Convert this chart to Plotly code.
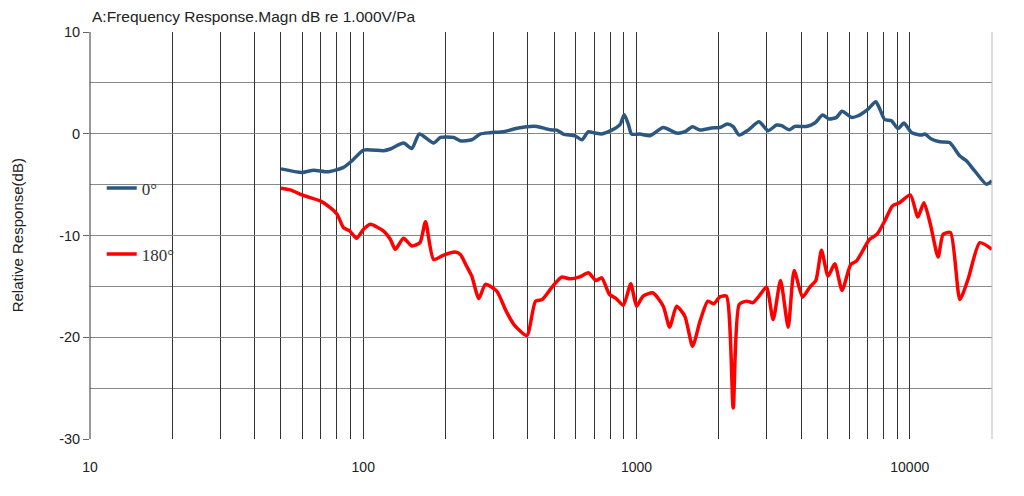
import plotly.graph_objects as go

freq_0 = [50, 59.7, 65.8, 74.6, 84.7, 90.9, 100.3, 118.7, 125.6, 140.4, 150.6, 160.4, 180.9, 191.6,
          214, 226, 249.6, 267.6, 291, 325.6, 344, 369.5, 408, 432, 483, 511, 540, 596, 631, 667,
          705, 746, 778, 834, 870, 902, 933, 960, 1030, 1120, 1253, 1402, 1503, 1604, 1708, 1885,
          2019, 2148, 2259, 2376, 2563, 2806, 3034, 3257, 3397, 3622, 3798, 4188, 4493, 4795,
          5070, 5395, 5654, 6119, 6471, 7041, 7510, 7770, 8100, 8570, 9060, 9530, 10140, 11040,
          11350, 12000, 12880, 14000, 15230, 16110, 17290, 19070, 20000]
db_0 = [-3.45, -3.8, -3.58, -3.74, -3.3, -2.66, -1.6, -1.67, -1.5, -0.92, -1.45, -0.03, -0.92, -0.36,
        -0.36, -0.69, -0.59, -0.03, 0.1, 0.2, 0.36, 0.56, 0.72, 0.72, 0.39, 0.36, -0.03, -0.2, -0.59, 0.2,
        0.07, -0.03, 0.13, 0.52, 0.89, 1.87, 0.95, -0.03, -0.03, -0.2, 0.62, 0.07, 0.2, 0.69, 0.36, 0.56,
        0.62, 0.95, 0.69, -0.13, 0.36, 1.18, 0.3, 0.86, 0.79, 0.39, 0.72, 0.72, 1.05, 1.84,
        1.45, 1.61, 2.2, 1.61, 1.77, 2.43, 3.15, 2.43, 1.38, 1.28, 0.52, 1.05, 0.13, -0.13,
        -0.03, -0.52, -0.79, -0.86, -2.17, -2.66, -3.65, -4.96, -4.63]

freq_180 = [50, 54, 59.7, 63.9, 69.6, 75.7, 80.2, 84.7, 89.4, 94.5, 100.3, 106, 118.7, 125.6, 131,
            140.4, 150.6, 161.2, 169, 180.9, 197, 216.6, 226.6, 238.8, 249.6, 264.9, 280, 308, 333,
            356, 397, 427, 452, 494, 532, 570, 620, 667, 710, 746, 797, 843, 895, 953, 1000, 1057,
            1147, 1253, 1322, 1402, 1503, 1604, 1708, 1824, 1917, 2019, 2133, 2259, 2376, 2528,
            2670, 2818, 2991, 3163, 3366, 3590, 3776, 4052, 4310, 4533, 4754, 5024, 5316, 5654,
            6085, 6383, 7130, 7590, 8100, 8640, 9180, 10050, 10710, 11270, 11900, 12700, 13250,
            14100, 15250, 16340, 18040, 20000]
db_180 = [-5.35, -5.52, -6.0, -6.27, -6.6, -7.26, -7.91, -9.23, -9.56, -10.28, -9.39, -8.9, -9.56, -10.37, -11.36,
          -10.28, -11.03, -10.71, -8.64, -12.35, -11.92, -11.63, -11.86, -13.0, -14.0, -16.2, -14.8, -15.47, -17.4,
          -18.75, -19.83, -16.45, -16.29, -14.98, -14.09, -14.25, -14.06, -13.66, -14.42, -14.16, -15.8, -16.2, -16.85, -14.75, -16.95, -15.96,
          -15.63, -16.95, -19.01, -16.95, -17.93, -20.89, -18.42, -16.45, -16.72, -16.03, -15.96, -26.96, -16.78, -16.45,
          -16.6, -15.9, -15.07, -18.26, -14.42, -19.01, -13.43, -16.06, -15.07, -14.42, -11.46, -13.99, -12.78, -15.4,
          -12.84, -12.51, -10.37, -9.88, -8.57, -7.09, -6.77, -6.01, -8.18, -6.77, -8.9, -12.12, -9.88,
          -9.72, -16.29, -14.32, -10.71, -11.36]

x_grid = [m * 10 ** e for e in range(1, 5) for m in range(1, 10)] + [20000]
x_labels = ["10", "100", "1000", "10000"]
x_ticktext = [str(v) if str(v) in x_labels else "" for v in x_grid]
y_ticks = [10, 0, -10, -20, -30]
y_ticktext = ["10", "0", "-10", "-20", "-30"]

title_text = "A:Frequency Response.Magn dB re 1.000V/Pa"
y_title = "Relative Response(dB)"

fig = go.Figure()
fig.add_trace(go.Scatter(x=freq_0, y=db_0, mode="lines", name="0°", legendgroup="a",
                         line=dict(color="#2B5780", width=3.5, shape="spline", smoothing=0.6)))
fig.add_trace(go.Scatter(x=freq_180, y=db_180, mode="lines", name="180°", legendgroup="b",
                         line=dict(color="#FF0000", width=3.5, shape="spline", smoothing=0.6)))

fig.update_layout(
    width=1024, height=496,
    margin=dict(l=90, r=32, t=32, b=57),
    paper_bgcolor="white", plot_bgcolor="white",
    font=dict(family="Liberation Sans, Arial", size=14, color="#222"),
    showlegend=True,
    legend=dict(x=0.013, y=0.66, xanchor="left", yanchor="top", bgcolor="rgba(0,0,0,0)",
                font=dict(family="Liberation Serif, Times New Roman", size=17, color="#333"),
                traceorder="grouped", tracegroupgap=41, itemwidth=30),
    xaxis=dict(type="log", range=[1, 4.30103], tickvals=x_grid, ticktext=x_ticktext,
               showgrid=True, gridcolor="#333", gridwidth=1, ticks="", ticklabelstandoff=18,
               zeroline=False, showline=False,
               tickfont=dict(family="Liberation Sans, Arial", size=14, color="#222")),
    yaxis=dict(range=[-30, 10], tickvals=y_ticks, ticktext=y_ticktext, showgrid=True, gridcolor="#888", gridwidth=1.3,
               minor=dict(dtick=5, tick0=0, showgrid=True, gridcolor="#888", gridwidth=1.3, ticks=""),
               ticks="outside", ticklen=6, tickcolor="#666", tickwidth=1,
               zeroline=False, showline=False,
               tickfont=dict(family="Liberation Sans, Arial", size=14.5, color="#222")),
    annotations=[
        dict(text=title_text, xref="paper", yref="paper", x=0, y=1.012, xanchor="left", yanchor="bottom",
             showarrow=False, font=dict(family="Liberation Sans, Arial", size=15.5, color="#222")),
        dict(text=y_title, xref="paper", yref="paper", x=-0.08, y=0.5, xanchor="center", yanchor="middle",
             textangle=-90, showarrow=False, font=dict(family="Liberation Sans, Arial", size=15, color="#222")),
    ],
    shapes=[
        dict(type="line", xref="paper", yref="paper", x0=0, x1=0, y0=0, y1=1, line=dict(color="#333", width=1)),
        dict(type="line", xref="paper", yref="paper", x0=1, x1=1, y0=0, y1=1, line=dict(color="#bbb", width=1)),
    ],
)

fig.write_html("out.html")
